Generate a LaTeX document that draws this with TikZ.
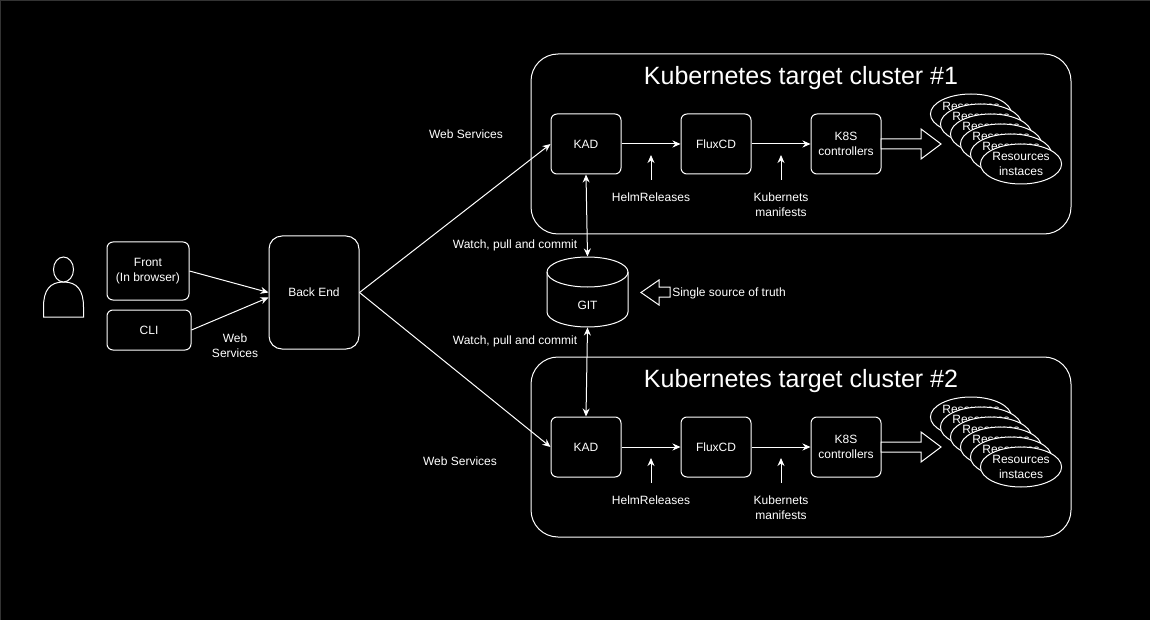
\documentclass[tikz,border=0pt]{standalone}
\usepackage{fontspec}
\setmainfont{Liberation Sans}
\usepackage{xcolor}
\usetikzlibrary{positioning,arrows.meta,shapes.geometric}
\definecolor{edgegray}{RGB}{51,51,51}
\tikzset{
    box/.style={draw=white, fill=black, rounded corners=6pt, align=center, minimum width=70pt, minimum height=60pt, inner sep=0pt},
    cluster/.style={draw=white, rounded corners=27pt, minimum width=540pt, minimum height=180pt, inner sep=0pt},
    res/.style={draw=white, fill=black, ellipse, align=center, minimum width=80pt, minimum height=40pt, inner sep=0pt},
    txt/.style={align=center, inner sep=0pt},
    big/.style={font=\fontsize{25}{29}\selectfont, inner sep=0pt},
    link/.style={-{Stealth[length=8pt,width=7pt]}},
    both/.style={{Stealth[length=8pt,width=7pt]}-{Stealth[length=8pt,width=7pt]}},
    fat/.style={draw=white, fill=black},
}
\begin{document}
\begin{tikzpicture}[x=1pt, y=-1pt, white, line width=1pt, font=\fontsize{12}{15}\selectfont, node distance=130pt]
    \path[fill=black, use as bounding box] (0,0) rectangle (1150,620);
    \draw[edgegray] (0.5,620) -- (0.5,0.5) -- (1150,0.5);

    \node[cluster] (T1) at (801,144) {};
    \node[cluster] (T2) at (801,447) {};
    \node[big] (N1) at (801,78) {Kubernetes target cluster \#1};
    \node[big] (N2) at (801,381) {Kubernetes target cluster \#2};

    \draw (43.5,317) -- (43.5,307) .. controls (43.5,290) and (50,282) .. (63.5,282) .. controls (77,282) and (83.5,290) .. (83.5,307) -- (83.5,317) -- cycle;
    \node[draw=white, fill=black, ellipse, minimum width=20pt, minimum height=25pt, inner sep=0pt] (H) at (63.5,269.5) {};

    \node[box, minimum width=82pt, minimum height=58pt] (Fr) at (148,271) {Front\\(In browser)};
    \node[box, minimum width=84pt, minimum height=40pt] (CL) at (149,330) {CLI};
    \node[box, minimum width=90pt, minimum height=113pt, rounded corners=13pt] (BE) at (314,292.5) {Back End};

    \node[box] (K1) at (586,144) {KAD};
    \node[box] (F1) [right of=K1] {FluxCD};
    \node[box] (C1) [right of=F1] {K8S\\controllers};
    \node[box] (K2) at (586,447) {KAD};
    \node[box] (F2) [right of=K2] {FluxCD};
    \node[box] (C2) [right of=F2] {K8S\\controllers};

    \node[minimum width=81pt, minimum height=70pt, inner sep=0pt] (G) at (587.5,292) {};
    \draw[fat] (547,272) arc[start angle=180, end angle=360, x radius=40.5, y radius=15] -- (628,312) arc[start angle=0, end angle=180, x radius=40.5, y radius=15] -- cycle;
    \draw (547,272) arc[start angle=180, end angle=0, x radius=40.5, y radius=15];
    \node[txt] (GL) at (587.5,305) {GIT};

    \node[res] (R1a) at (971,114) {Resources\\instaces};
    \node[res] (R1b) at (981,124) {Resources\\instaces};
    \node[res] (R1c) at (991,134) {Resources\\instaces};
    \node[res] (R1d) at (1001,144) {Resources\\instaces};
    \node[res] (R1e) at (1011,154) {Resources\\instaces};
    \node[res] (R1f) at (1021,164) {Resources\\instaces};
    \node[res] (R2a) at (971,417) {Resources\\instaces};
    \node[res] (R2b) at (981,427) {Resources\\instaces};
    \node[res] (R2c) at (991,437) {Resources\\instaces};
    \node[res] (R2d) at (1001,447) {Resources\\instaces};
    \node[res] (R2e) at (1011,457) {Resources\\instaces};
    \node[res] (R2f) at (1021,467) {Resources\\instaces};

    \draw[fat] (881,139) -- (921,139) -- (921,129) -- (941,144) -- (921,159) -- (921,149) -- (881,149) -- cycle;
    \draw[fat] (881,442) -- (921,442) -- (921,432) -- (941,447) -- (921,462) -- (921,452) -- (881,452) -- cycle;
    \draw[fat] (670,287) -- (659,287) -- (659,280) -- (641,292.5) -- (659,305) -- (659,297) -- (670,297) -- cycle;

    \coordinate (U1) at (651,180);
    \coordinate (V1) at (651,155);
    \coordinate (U2) at (781,180);
    \coordinate (V2) at (781,155);
    \coordinate (U3) at (651,483);
    \coordinate (V3) at (651,458);
    \coordinate (U4) at (781,483);
    \coordinate (V4) at (781,458);

    \path (Fr.east) edge [link] (BE.west)
          (CL.east) edge [link] ([yshift=-5pt]BE.west)
          (BE.east) edge [link] (K1.west)
          (BE.east) edge [link] (K2.west)
          (K1.east) edge [link] (F1.west)
          (F1.east) edge [link] (C1.west)
          (K2.east) edge [link] (F2.west)
          (F2.east) edge [link] (C2.west)
          (K1.south) edge [both] (G.north)
          (G.south) edge [both] (K2.north)
          (U1) edge [link] (V1)
          (U2) edge [link] (V2)
          (U3) edge [link] (V3)
          (U4) edge [link] (V4);

    \node[txt] (W1) at (466,134) {Web Services};
    \node[txt] (W2) at (460,461) {Web Services};
    \node[txt] (W3) at (235,346) {Web\\Services};
    \node[txt] (P1) at (515,245) {Watch, pull and commit};
    \node[txt] (P2) at (515,341) {Watch, pull and commit};
    \node[txt] (S) at (729,293.5) {Single source of truth};
    \node[txt] (L1) at (651,197) {HelmReleases};
    \node[txt] (M1) at (781,205) {Kubernets\\manifests};
    \node[txt] (L2) at (651,500) {HelmReleases};
    \node[txt] (M2) at (781,508) {Kubernets\\manifests};
\end{tikzpicture}
\end{document}
